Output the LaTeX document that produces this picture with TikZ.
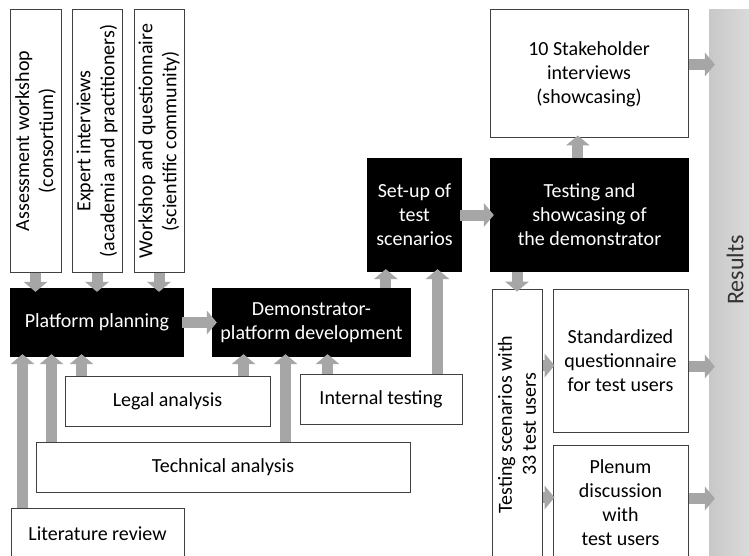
\documentclass[tikz,border=0pt]{standalone}
\usepackage{fontspec}
\setmainfont{Carlito}
\usetikzlibrary{arrows.meta,calc}
\definecolor{arrgray}{HTML}{A6A6A6}
\definecolor{resgrayL}{HTML}{C8C8C8}
\definecolor{resgrayR}{HTML}{DADADA}
\definecolor{edgegray}{HTML}{404040}
\definecolor{restext}{HTML}{333333}
\tikzset{
  txt/.style={font=\fontsize{20}{24}\selectfont},
  wbox/.style={txt, draw=edgegray, line width=1pt, fill=white, inner sep=0pt, align=center},
  bbox/.style={txt, fill=black, text=white, inner sep=0pt, align=center},
  arr/.style={draw=arrgray, line width=11pt, -{Triangle[width=24pt,length=10pt,line width=0pt]}},
}
\begin{document}
\begin{tikzpicture}[x=1pt,y=-1pt]
\useasboundingbox (0,0) rectangle (749,556);
\clip (0,0) rectangle (749,556);
\fill[white] (0,0) rectangle (749,556);

% Results bar
\node[left color=resgrayL, right color=resgrayR, minimum width=40pt, minimum height=560pt, inner sep=0pt] (res) at (729,290) {};
\node[font=\fontsize{24}{28}\selectfont, text=restext, rotate=90] (restxt) at (735,270) {Results};

% top input boxes
\node[wbox, minimum width=51pt, minimum height=262pt] (aw) at (35.5,141) {};
\node[txt, rotate=90, align=center] (awt) at (aw.center) {Assessment workshop\\(consortium)};
\node[wbox, minimum width=50pt, minimum height=262pt] (ei) at (97,141) {};
\node[txt, rotate=90, align=center] (eit) at (ei.center) {Expert interviews\\(academia and practitioners)};
\node[wbox, minimum width=50pt, minimum height=262pt] (wq) at (159,141) {};
\node[txt, rotate=90, align=center] (wqt) at (wq.center) {Workshop and questionnaire\\(scientific community)};

% black process boxes
\node[bbox, minimum width=174pt, minimum height=69pt] (pp) at (97,322.5) {Platform planning};
\node[bbox, minimum width=199pt, minimum height=69pt] (dd) at (311.5,322.5) {Demonstrator-\\platform development};
\node[bbox, minimum width=95pt, minimum height=114pt] (su) at (414.5,215) {Set-up of\\test\\scenarios};
\node[bbox, minimum width=199pt, minimum height=114pt] (ts) at (589.5,215) {Testing and\\showcasing of\\the demonstrator};

% analysis boxes
\node[wbox, minimum width=205pt, minimum height=50pt] (la) at (167.5,401) {Legal analysis};
\node[wbox, minimum width=162pt, minimum height=50pt] (it) at (381,399) {Internal testing};
\node[wbox, minimum width=374pt, minimum height=50pt] (ta) at (223,467) {Technical analysis};
\node[wbox, minimum width=173pt, minimum height=52pt] (lr) at (97.5,534) {Literature review};

% right boxes
\node[wbox, minimum width=198pt, minimum height=128pt] (sh) at (589,74) {10 Stakeholder\\interviews\\(showcasing)};
\node[wbox, minimum width=50pt, minimum height=271pt] (tu) at (517,424.5) {};
\node[txt, rotate=90, align=center] (tut) at (tu.center) {Testing scenarios with\\33 test users};
\node[wbox, minimum width=135pt, minimum height=143pt] (sq) at (620.5,360.5) {Standardized\\questionnaire\\for test users};
\node[wbox, minimum width=135pt, minimum height=115pt] (pd) at (620.5,502.5) {Plenum\\discussion\\with\\test users};

% connector anchor points
\coordinate (c1) at ($(lr.north west)+(12,0)$);
\coordinate (c2) at ($(ta.north west)+(16,0)$);
\coordinate (c3) at ($(la.north west)+(17,0)$);
\coordinate (c4) at ($(la.north west)+(179,0)$);
\coordinate (c5) at ($(ta.north west)+(250,0)$);
\coordinate (c6) at ($(it.north west)+(28,0)$);
\coordinate (c7) at ($(dd.north west)+(174,0)$);
\coordinate (c8) at ($(it.north west)+(138,0)$);
\coordinate (c9) at ($(ts.north west)+(88,0)$);
\coordinate (c10) at ($(tu.north east)+(0,77)$);
\coordinate (c11) at ($(tu.north east)+(0,209)$);
\coordinate (c12) at ($(sh.north east)+(0,55)$);
\coordinate (c13) at ($(sq.north east)+(0,78)$);
\coordinate (c14) at ($(pd.north east)+(0,54)$);

% arrows
\draw[arr, shorten >=-4pt] (aw.south) -- (aw.south |- pp.north);
\draw[arr, shorten >=-4pt] (ei.south) -- (ei.south |- pp.north);
\draw[arr, shorten >=-4pt] (wq.south) -- (wq.south |- pp.north);
\draw[arr, shorten <=-2pt, shorten >=-5pt] (pp.east) -- (dd.west);
\draw[arr, shorten >=-3pt] (c1) -- (c1 |- pp.south);
\draw[arr, shorten >=-3pt] (c2) -- (c2 |- pp.south);
\draw[arr, shorten >=-3pt] (c3) -- (c3 |- pp.south);
\draw[arr, shorten >=-3pt] (c4) -- (c4 |- dd.south);
\draw[arr, shorten >=-3pt] (c5) -- (c5 |- dd.south);
\draw[arr, shorten >=-3pt] (c6) -- (c6 |- dd.south);
\draw[arr, shorten >=-3pt] (c7) -- (c7 |- su.south);
\draw[arr, shorten >=-3pt] (c8) -- (c8 |- su.south);
\draw[arr, shorten <=-2pt, shorten >=-4pt] (su.east |- ts.west) -- (ts.west);
\draw[arr, shorten >=-3pt] (c9) -- (c9 |- sh.south);
\draw[arr, shorten >=-3pt] (ts.south -| tu.north) -- (tu.north);
\draw[arr, shorten >=-2pt] (c10) -- (c10 -| sq.west);
\draw[arr, shorten >=-2pt] (c11) -- (c11 -| pd.west);
\draw[arr, shorten >=-6pt] (c12) -- (c12 -| res.west);
\draw[arr, shorten >=-6pt] (c13) -- (c13 -| res.west);
\draw[arr, shorten >=-6pt] (c14) -- (c14 -| res.west);
\end{tikzpicture}
\end{document}
